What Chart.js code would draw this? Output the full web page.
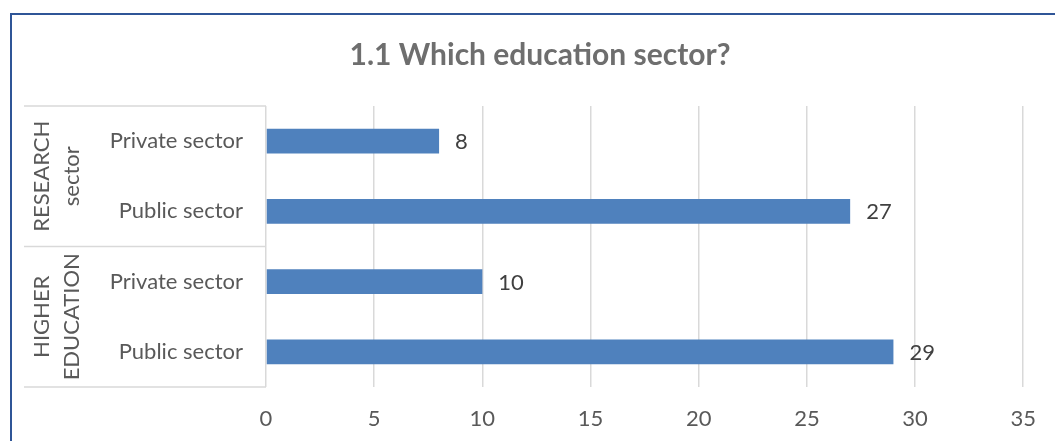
<!DOCTYPE html>
<html>
<head>
<meta charset="utf-8">
<script src="https://cdn.jsdelivr.net/npm/chart.js@4/dist/chart.umd.min.js"></script>
<style>
  html, body { margin: 0; padding: 0; background: #ffffff; }
  #chart { display: block; }
</style>
</head>
<body>
<canvas id="chart" width="1055" height="441"></canvas>
<script>
// Survey answers: which education sector respondents work in
const chartTitle = '1.1 Which education sector?';
const categories = ['Private sector', 'Public sector', 'Private sector', 'Public sector'];
const values = [8, 27, 10, 29];
const groupNames = [['RESEARCH', 'sector'], ['HIGHER', 'EDUCATION']];
const groupSizes = [2, 2];
const axisMax = 35;
const axisStep = 5;

const FONT = 'Lato, "Open Sans", sans-serif';
const TEXT_GREY = '#595959';
const TITLE_GREY = '#6E6E6E';
const LABEL_DARK = '#404040';
const GRID = '#D9D9D9';
const BAR = '#4F81BD';
const FRAME = '#2F5597';

// Frame, title, grouped category boxes and value labels
const decorations = {
  id: 'decorations',
  beforeDraw(chart) {
    const ctx = chart.ctx;
    ctx.save();
    ctx.fillStyle = '#ffffff';
    ctx.fillRect(0, 0, chart.width, chart.height);
    ctx.strokeStyle = FRAME;
    ctx.lineWidth = 2;
    ctx.beginPath();
    ctx.moveTo(11, chart.height + 2);
    ctx.lineTo(11, 14);
    ctx.lineTo(chart.width + 2, 14);
    ctx.stroke();

    ctx.fillStyle = TITLE_GREY;
    ctx.font = 'bold 30px ' + FONT;
    ctx.textAlign = 'center';
    ctx.textBaseline = 'middle';
    ctx.fillText(chartTitle, 540, 55);
    ctx.restore();
  },
  afterDraw(chart) {
    const ctx = chart.ctx;
    const area = chart.chartArea;
    const y = chart.scales.y;
    const boxLeft = 24;
    ctx.save();

    // Horizontal separators of the category groups
    const bounds = [area.top];
    let idx = 0;
    groupSizes.forEach((n) => {
      idx += n;
      if (idx < categories.length) {
        bounds.push((y.getPixelForValue(idx - 1) + y.getPixelForValue(idx)) / 2);
      }
    });
    bounds.push(area.bottom);
    ctx.strokeStyle = GRID;
    ctx.lineWidth = 1.5;
    bounds.forEach((b) => {
      ctx.beginPath();
      ctx.moveTo(boxLeft, b);
      ctx.lineTo(area.left, b);
      ctx.stroke();
    });

    // Rotated group names
    ctx.fillStyle = TEXT_GREY;
    ctx.font = '22px ' + FONT;
    ctx.textAlign = 'center';
    ctx.textBaseline = 'middle';
    groupNames.forEach((lines, g) => {
      const cy = (bounds[g] + bounds[g + 1]) / 2;
      const xs = [41.5, 72];
      lines.forEach((line, i) => {
        ctx.save();
        ctx.translate(xs[i], cy);
        ctx.rotate(-Math.PI / 2);
        ctx.fillText(line, 0, 0);
        ctx.restore();
      });
    });

    // Value labels at the end of each bar
    ctx.fillStyle = LABEL_DARK;
    ctx.textAlign = 'left';
    const meta = chart.getDatasetMeta(0);
    meta.data.forEach((bar, i) => {
      ctx.fillText(String(values[i]), bar.x + 16, bar.y + 1);
    });
    ctx.restore();
  }
};

new Chart(document.getElementById('chart'), {
  type: 'bar',
  data: {
    labels: categories,
    datasets: [{
      data: values,
      backgroundColor: BAR,
      borderWidth: 0,
      barPercentage: 0.355,
      categoryPercentage: 1
    }]
  },
  options: {
    indexAxis: 'y',
    responsive: false,
    animation: false,
    devicePixelRatio: 1,
    layout: { padding: { left: 0, right: 30, top: 106, bottom: 0 } },
    plugins: {
      legend: { display: false },
      title: { display: false },
      tooltip: { enabled: false }
    },
    scales: {
      x: {
        min: 0,
        max: axisMax,
        ticks: {
          stepSize: axisStep,
          color: TEXT_GREY,
          font: { family: FONT, size: 22 },
          padding: 19
        },
        grid: { color: GRID, lineWidth: 1.5, drawTicks: false },
        border: { display: false },
        afterFit(scale) { scale.height = 54; }
      },
      y: {
        ticks: {
          color: TEXT_GREY,
          font: { family: FONT, size: 22 },
          padding: 23
        },
        grid: { display: false, drawTicks: false },
        border: { display: false },
        afterFit(scale) { scale.width = 266; }
      }
    }
  },
  plugins: [decorations]
});
</script>
</body>
</html>
